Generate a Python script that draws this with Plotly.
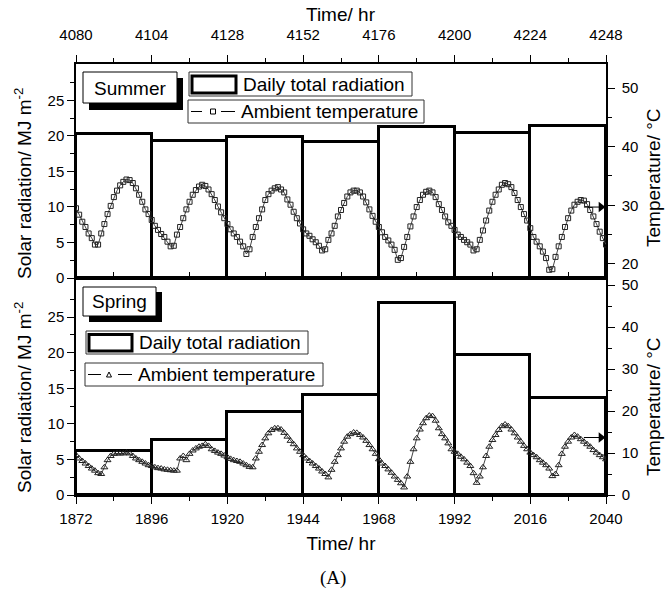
import plotly.graph_objects as go

# ---------------- data ----------------
summer_day_start = [4080, 4104, 4128, 4152, 4176, 4200, 4224]
summer_radiation = [20.2, 19.3, 19.9, 19.1, 21.2, 20.4, 21.4]
spring_day_start = [1872, 1896, 1920, 1944, 1968, 1992, 2016]
spring_radiation = [6.2, 7.8, 11.6, 14.0, 27.0, 19.7, 13.7]

summer_hours = list(range(4080, 4249))
summer_temp = [
    29.5, 28.4, 27.2, 26.3, 25.2, 24.4, 23.3, 23.3, 25.2, 26.8, 28.5, 29.9, 31.4,
    32.5, 33.4, 34.0, 34.4, 34.3, 33.8, 32.9, 31.8, 30.6, 29.3, 28.5, 27.5,
    26.5, 25.8, 25.1, 24.6, 23.8, 23.0, 23.1, 25.0, 26.3, 27.8, 29.3, 30.6,
    31.8, 32.6, 33.2, 33.5, 33.3, 32.7, 31.9, 30.9, 29.8, 28.8, 27.8, 26.8,
    25.9, 25.2, 24.6, 23.8, 23.0, 21.7, 22.5, 24.6, 26.3, 27.8, 29.3, 30.9,
    31.9, 32.5, 32.9, 33.1, 32.7, 32.2, 31.0, 30.1, 28.9, 27.8, 26.9, 25.9,
    25.2, 24.8, 24.2, 23.7, 23.1, 22.3, 22.5, 24.1, 25.2, 26.5, 28.1, 29.2,
    30.4, 31.5, 32.2, 32.5, 32.5, 32.2, 31.5, 30.5, 29.3, 28.2, 27.2, 26.3,
    25.4, 24.6, 24.0, 23.3, 22.4, 20.7, 21.0, 22.9, 24.6, 26.4, 28.1, 29.7,
    30.9, 31.8, 32.3, 32.5, 32.2, 31.4, 30.2, 29.2, 28.1, 27.1, 26.5, 25.8,
    25.0, 24.6, 24.1, 23.7, 23.3, 22.3, 22.5, 24.1, 25.7, 27.4, 29.1, 30.6,
    31.8, 32.7, 33.5, 33.8, 33.6, 33.1, 32.1, 30.9, 29.7, 28.5, 27.4, 26.1,
    24.6, 23.8, 23.0, 22.1, 21.0, 19.0, 19.1, 21.2, 23.0, 24.6, 26.3, 27.8,
    29.1, 30.1, 30.6, 30.9, 30.8, 30.2, 29.2, 28.1, 26.8, 25.5, 24.4, 23.3,
]

spring_hours = list(range(1872, 2041))
spring_temp = [
    9.5, 8.7, 8.1, 7.5, 6.9, 6.3, 5.8, 5.2, 5.0, 6.6, 8.3, 9.3, 9.8,
    9.9, 9.9, 9.9, 10.1, 9.9, 9.3, 8.7, 8.3, 7.9, 7.5, 7.1, 6.9,
    6.6, 6.4, 6.3, 6.1, 6.0, 5.9, 5.8, 5.8, 8.7, 9.3, 8.3, 9.8,
    10.6, 11.1, 11.5, 11.7, 12.1, 11.7, 10.9, 10.5, 10.1, 9.8, 9.4, 9.0,
    8.6, 8.3, 8.1, 7.9, 7.5, 7.1, 6.7, 6.6, 8.7, 10.3, 11.9, 13.5,
    14.7, 15.5, 15.9, 15.9, 15.6, 14.8, 13.9, 12.9, 12.1, 11.1, 10.3, 9.5,
    8.7, 8.1, 7.5, 6.9, 6.3, 5.6, 5.0, 4.2, 6.0, 7.9, 9.5, 11.1,
    12.7, 13.9, 14.5, 14.9, 14.8, 14.3, 13.7, 12.9, 11.9, 10.9, 9.8, 8.5,
    7.5, 6.9, 6.1, 5.3, 4.4, 3.6, 2.8, 1.8, 4.4, 7.9, 10.9, 13.5,
    15.6, 17.1, 18.3, 18.9, 18.8, 17.7, 15.9, 14.5, 13.5, 12.3, 10.9, 10.3,
    9.8, 9.1, 8.5, 7.7, 6.9, 5.2, 2.9, 4.4, 6.6, 9.3, 11.5, 13.1,
    14.3, 15.5, 16.4, 16.8, 16.4, 15.6, 14.7, 13.7, 12.7, 11.7, 10.9, 10.1,
    9.5, 9.0, 8.3, 7.7, 7.1, 6.3, 4.5, 5.0, 7.1, 9.8, 11.5, 12.7,
    13.7, 14.3, 13.9, 13.3, 12.7, 12.1, 11.5, 10.7, 10.1, 9.5, 9.0, 8.5,
]

summer_ticks = [4080, 4104, 4128, 4152, 4176, 4200, 4224, 4248]
spring_ticks = [1872, 1896, 1920, 1944, 1968, 1992, 2016, 2040]
rad_ticks = [0, 5, 10, 15, 20, 25]
summer_temp_ticks = [20, 30, 40, 50]
spring_temp_ticks = [0, 10, 20, 30, 40, 50]
arrow_temp = [29.7, 13.7]  # level of the arrows pointing to the right-hand axes
arrow_len_hr = 7            # arrow length, in hours

# ---------------- layout helpers ----------------
W, H = 666, 607
L, R, T, B = 76, 606, 64, 495
FONT = "Liberation Sans, Arial, sans-serif"


def px(x):
    return (x - L) / (R - L)


def py(y):
    return (B - y) / (B - T)


split = py(278)

fig = go.Figure()

fig.add_trace(go.Bar(
    x=[d + 12 for d in summer_day_start], y=summer_radiation, width=24,
    marker=dict(color="white", line=dict(color="black", width=3)),
    xaxis="x", yaxis="y", showlegend=False))
fig.add_trace(go.Scatter(
    x=summer_hours, y=summer_temp, xaxis="x", yaxis="y2", mode="lines+markers",
    line=dict(color="#444", width=1),
    marker=dict(symbol="square-open", size=5, color="#222", line=dict(width=1)),
    showlegend=False))
fig.add_trace(go.Bar(
    x=[d + 12 for d in spring_day_start], y=spring_radiation, width=24,
    marker=dict(color="white", line=dict(color="black", width=3)),
    xaxis="x2", yaxis="y3", showlegend=False))
fig.add_trace(go.Scatter(
    x=spring_hours, y=spring_temp, xaxis="x2", yaxis="y4", mode="lines+markers",
    line=dict(color="#444", width=1),
    marker=dict(symbol="triangle-up-open", size=6, color="#222", line=dict(width=1)),
    showlegend=False))

# arrows towards the right-hand (temperature) axes
for xs, yv, xa, ya in [(summer_ticks, arrow_temp[0], "x", "y2"),
                       (spring_ticks, arrow_temp[1], "x2", "y4")]:
    end = xs[-1]
    fig.add_trace(go.Scatter(
        x=[end - arrow_len_hr, end - 1.6], y=[yv, yv], xaxis=xa, yaxis=ya,
        mode="lines", line=dict(color="black", width=1), showlegend=False,
        hoverinfo="skip"))
    fig.add_trace(go.Scatter(
        x=[end - 1.6], y=[yv], xaxis=xa, yaxis=ya, mode="markers",
        marker=dict(symbol="triangle-right", size=9, color="black"),
        showlegend=False, hoverinfo="skip", cliponaxis=False))

tickfont = dict(family=FONT, size=15, color="black")
titlefont = dict(family=FONT, size=19, color="black")
axis_common = dict(showline=True, linecolor="black", linewidth=1.5, ticks="outside",
                   ticklen=7, tickwidth=1.2, tickcolor="black", showgrid=False,
                   zeroline=False, tickfont=tickfont)


def minor(vals):
    return dict(tickvals=vals, ticks="outside", ticklen=4, tickwidth=1.2, tickcolor="black")


fig.update_layout(
    width=W, height=H, margin=dict(l=L, r=W - R, t=T, b=H - B),
    paper_bgcolor="white", plot_bgcolor="white", bargap=0,
    font=dict(family=FONT, color="black"),
    xaxis=dict(**axis_common, anchor="y", side="top", range=[4080, 4248],
               tickvals=summer_ticks, mirror=True, ticklabelstandoff=9,
               minor=minor([t + 12 for t in summer_ticks[:-1]])),
    yaxis=dict(**axis_common, domain=[split, 1], range=[0, 30.1], tickvals=rad_ticks,
               minor=minor([t + 2.5 for t in rad_ticks])),
    yaxis2=dict(**axis_common, overlaying="y", side="right", range=[17.6, 54.1],
                tickvals=summer_temp_ticks, ticklabelstandoff=4,
                minor=minor([25, 35, 45])),
    xaxis2=dict(**axis_common, anchor="y3", side="bottom", range=[1872, 2040],
                tickvals=spring_ticks, mirror="ticks", ticklabelstandoff=2,
                minor=minor([t + 12 for t in spring_ticks[:-1]]),
                title=dict(text="Time/ hr", font=titlefont, standoff=11)),
    yaxis3=dict(**axis_common, domain=[0, split], range=[0, 30.5], tickvals=rad_ticks,
                minor=minor([t + 2.5 for t in rad_ticks])),
    yaxis4=dict(**axis_common, overlaying="y3", side="right", range=[0, 51.7],
                tickvals=spring_temp_ticks, ticklabelstandoff=4,
                minor=minor([5, 15, 25, 35, 45])),
)

shapes = []
annotations = []


def rect(x0, y0, x1, y1, fill="white", lw=1, lc="black"):
    shapes.append(dict(type="rect", xref="paper", yref="paper",
                       x0=px(x0), x1=px(x1), y0=py(y1), y1=py(y0),
                       fillcolor=fill, line=dict(color=lc, width=lw), layer="above"))


def line(x0, y0, x1, y1, lw=1, lc="black"):
    shapes.append(dict(type="line", xref="paper", yref="paper",
                       x0=px(x0), x1=px(x1), y0=py(y0), y1=py(y1),
                       line=dict(color=lc, width=lw), layer="above"))


def text(x, y, s, size=19, xanchor="left", angle=0):
    annotations.append(dict(xref="paper", yref="paper", x=px(x), y=py(y), text=s,
                            showarrow=False, xanchor=xanchor, yanchor="middle",
                            textangle=angle,
                            font=dict(family=FONT, size=size, color="black")))


# axis titles
text(341, 14, "Time/ hr", xanchor="center")
text(23, 184, "Solar radiation/ MJ m<sup>-2</sup>", xanchor="center", angle=-90)
text(23, 398, "Solar radiation/ MJ m<sup>-2</sup>", xanchor="center", angle=-90)
text(653, 178, "Temperature/ °C", xanchor="center", angle=-90)
text(653, 407, "Temperature/ °C", xanchor="center", angle=-90)

# Summer label + legend
rect(89, 78, 183, 110, fill="black", lw=0)
rect(83, 72, 177, 103)
text(130, 88, "Summer", xanchor="center")
rect(189, 72, 412, 96, lc="#333")
rect(192, 76, 236, 93, lw=3)
text(241, 84, "Daily total radiation")
rect(188, 100, 424, 123, lc="#333")
line(191, 111.5, 202, 111.5)
line(221, 111.5, 235, 111.5)
rect(210.5, 109, 215.5, 114, lw=1)
text(239, 111.5, "Ambient temperature")

# Spring label + legend
rect(89, 292, 162, 322, fill="black", lw=0)
rect(83, 287, 156, 316)
text(119.5, 301.5, "Spring", xanchor="center")
rect(86, 331, 308, 354, lc="#333")
rect(89, 334.5, 132, 351, lw=3)
text(137, 342.5, "Daily total radiation")
rect(85, 363, 323, 386, lc="#333")
line(88, 374.5, 101, 374.5)
line(118, 374.5, 132, 374.5)
shapes.append(dict(type="path", xref="paper", yref="paper", layer="above",
                   path=f"M {px(106.5)} {py(377)} L {px(111.5)} {py(377)} L {px(109)} {py(372)} Z",
                   line=dict(color="black", width=1), fillcolor="white"))
text(136, 374.5, "Ambient temperature")

# caption
annotations.append(dict(xref="paper", yref="paper", x=px(333), y=py(578), text="(A)",
                        showarrow=False, xanchor="center", yanchor="middle",
                        font=dict(family="Liberation Serif, Times New Roman, serif",
                                  size=19, color="black")))

fig.update_layout(shapes=shapes, annotations=annotations)
fig.write_html("out.html")
